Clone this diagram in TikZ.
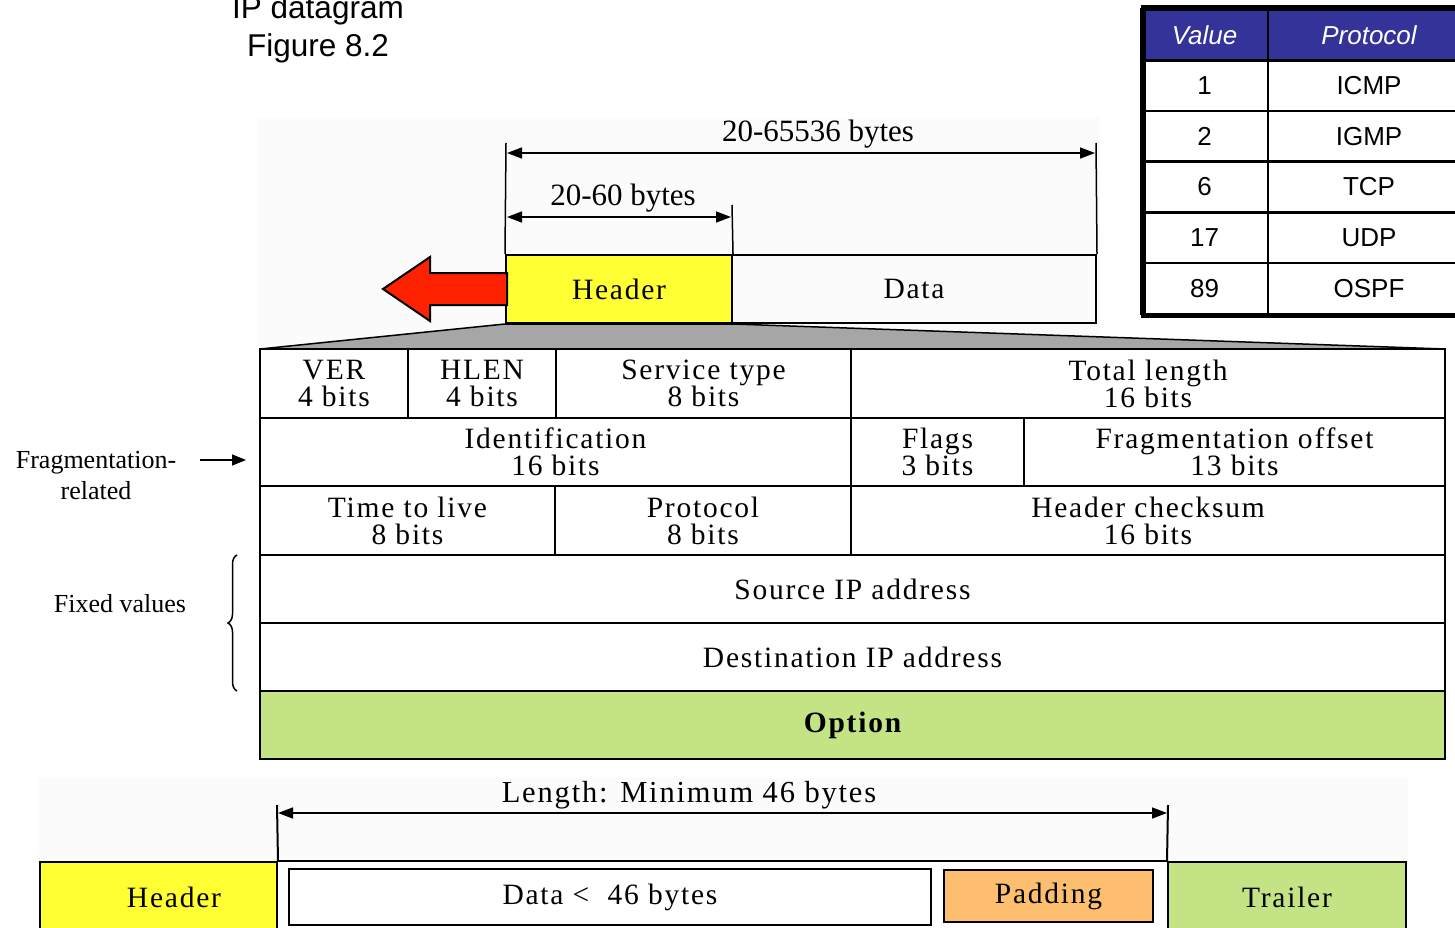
\documentclass[tikz,border=0pt]{standalone}
\usepackage{fontspec}
\setmainfont{Liberation Serif}
\newfontfamily\fieldfont[LetterSpace=6]{Liberation Serif}
\newfontfamily\arialfont{Liberation Sans}
\usetikzlibrary{arrows.meta,decorations.pathreplacing}
\definecolor{hdrblue}{RGB}{51,51,153}
\definecolor{hyellow}{RGB}{255,255,51}
\definecolor{ogreen}{RGB}{195,227,133}
\definecolor{padorange}{RGB}{253,191,111}
\definecolor{redarrow}{RGB}{255,34,0}
\definecolor{trapgray}{RGB}{166,166,166}
\begin{document}
\begin{tikzpicture}[x=1pt,y=-1pt,
  field/.style={draw, line width=2pt, inner sep=0pt, align=center,
    font=\fieldfont\fontsize{29.5}{27}\selectfont},
  tcell/.style={draw, line width=2.5pt, inner sep=0pt, minimum height=51pt,
    font=\arialfont\fontsize{26}{30}\selectfont},
  thead/.style={tcell, fill=hdrblue, text=white, font=\arialfont\itshape\fontsize{26}{30}\selectfont},
  lbl/.style={inner sep=0pt, align=center, font=\fontsize{26}{31}\selectfont},
  dimtxt/.style={inner sep=0pt, font=\fontsize{31}{32}\selectfont},
  dim/.style={{Triangle[length=15pt,width=11pt]}-{Triangle[length=15pt,width=11pt]}, line width=1.5pt},
  guide/.style={line width=1.5pt},
  title/.style={inner sep=0pt, anchor=base, font=\arialfont\fontsize{31.5}{36}\selectfont}
]
\useasboundingbox (0,0) rectangle (1455,928);
\clip (0,0) rectangle (1455,928);

% faint backgrounds
\fill[black!1.5] (258,118) rectangle (1100,346);
\fill[black!1.5] (38,778) rectangle (1408,862);

% title
\node[title] (t1) at (318,19) {IP datagram};
\node[title] (t2) at (318,57) {Figure 8.2};

% protocol table
\node[thead, minimum width=127pt] (hv) at (1204.5,35) {Value};
\node[thead, minimum width=202pt] (hp) at (1369,35) {Protocol};
\foreach \v/\p/\y [count=\i] in {1/ICMP/85.5, 2/IGMP/136.5, 6/TCP/187, 17/UDP/237.5, 89/OSPF/288.5}{
  \node[tcell, minimum width=127pt] (v\i) at (1204.5,\y) {\v};
  \node[tcell, minimum width=202pt] (p\i) at (1369,\y) {\p};
}
\draw[line width=5pt] (1143,8) rectangle (1472,315);

% top datagram
\node[field, fill=hyellow, minimum width=226pt, minimum height=68pt] (hdr) at (619,289) {Header};
\node[field, minimum width=364pt, minimum height=68pt] (data) at (914,289) {Data};
\coordinate (a1) at (506,143);
\coordinate (a2) at (1096,143);
\coordinate (a3) at (732,205);
\draw[guide] (a1) -- (hdr.north west);
\draw[guide] (a2) -- (data.north east);
\draw[guide] (a3) -- (hdr.north east);
\coordinate (d1l) at (507,153);
\coordinate (d1r) at (1095,153);
\coordinate (d2l) at (507,217);
\coordinate (d2r) at (731,217);
\draw[dim] (d1l) -- (d1r);
\draw[dim] (d2l) -- (d2r);
\node[dimtxt] (l1) at (818,134) {20-65536 bytes};
\node[dimtxt] (l2) at (623,198) {20-60 bytes};

% red arrow
\draw[line width=2pt, fill=redarrow, line join=miter]
  (383,289) -- (430,257) -- (430,273) -- (507,273) -- (507,305) -- (430,305) -- (430,321) -- cycle;

% trapezoid
\coordinate (tr1) at (1445,349);
\coordinate (tr2) at (260,349);
\draw[line width=1.5pt, fill=trapgray] (hdr.south west) -- (hdr.south east) -- (tr1) -- (tr2) -- cycle;

% header fields
\node[field, minimum width=148pt, minimum height=69pt] (ver) at (334,383.5) {VER\\4 bits};
\node[field, minimum width=148pt, minimum height=69pt] (hlen) at (482,383.5) {HLEN\\4 bits};
\node[field, minimum width=295pt, minimum height=69pt] (svc) at (703.5,383.5) {Service type\\8 bits};
\node[field, minimum width=594pt, minimum height=69pt] (tot) at (1148,383.5) {Total length\\16 bits};

\node[field, minimum width=591pt, minimum height=68pt] (ident) at (555.5,452) {Identification\\16 bits};
\node[field, minimum width=173pt, minimum height=68pt] (flags) at (937.5,452) {Flags\\3 bits};
\node[field, minimum width=421pt, minimum height=68pt] (frag) at (1234.5,452) {Fragmentation offset\\13 bits};

\node[field, minimum width=295pt, minimum height=69pt] (ttl) at (407.5,520.5) {Time to live\\8 bits};
\node[field, minimum width=296pt, minimum height=69pt] (proto) at (703,520.5) {Protocol\\8 bits};
\node[field, minimum width=594pt, minimum height=69pt] (cks) at (1148,520.5) {Header checksum\\16 bits};

\node[field, minimum width=1185pt, minimum height=68pt] (src) at (852.5,589) {Source IP address};
\node[field, minimum width=1185pt, minimum height=68pt] (dst) at (852.5,657) {Destination IP address};
\node[field, fill=ogreen, minimum width=1185pt, minimum height=68pt, font=\fieldfont\bfseries\fontsize{29.5}{27}\selectfont] (opt) at (852.5,725) {Option};

% side labels
\node[lbl] (fr) at (96,476) {Fragmentation-\\related};
\coordinate (fa) at (200,460);
\coordinate (fb) at (246,460);
\draw[line width=1.5pt, -{Triangle[length=14pt,width=11pt]}] (fa) -- (fb);
\node[lbl] (fx) at (120,604) {Fixed values};
\coordinate (b1) at (237,691);
\coordinate (b2) at (237,555);
\draw[line width=1.5pt, decorate, decoration={brace, amplitude=9pt}] (b1) -- (b2);

% bottom frame
\node[field, fill=hyellow, minimum width=237pt, minimum height=76pt] (fh) at (158.5,900) {};
\node[inner sep=0pt, font=\fieldfont\fontsize{29.5}{27}\selectfont] (fht) at (174,897) {Header};
\node[field, fill=ogreen, minimum width=238pt, minimum height=76pt] (ft) at (1287,900) {};
\node[inner sep=0pt, font=\fieldfont\fontsize{29.5}{27}\selectfont] (ftt) at (1287,897) {Trailer};
\coordinate (m1) at (277,805);
\coordinate (m2) at (1168,805);
\draw[line width=2pt] (m1) -- (fh.north east);
\draw[line width=2pt] (m2) -- (ft.north west);
\draw[line width=2pt] (fh.north east) -- (ft.north west);
\node[field, minimum width=642pt, minimum height=56pt] (fd) at (610,897) {Data <\ \ 46 bytes};
\node[field, fill=padorange, minimum width=209pt, minimum height=52pt] (pad) at (1048.5,896) {Padding};
\coordinate (d3l) at (278,813);
\coordinate (d3r) at (1167,813);
\draw[dim] (d3l) -- (d3r);
\node[inner sep=0pt, font=\fieldfont\fontsize{30.5}{30}\selectfont] (l3) at (689,795) {Length: Minimum 46 bytes};
\end{tikzpicture}
\end{document}
